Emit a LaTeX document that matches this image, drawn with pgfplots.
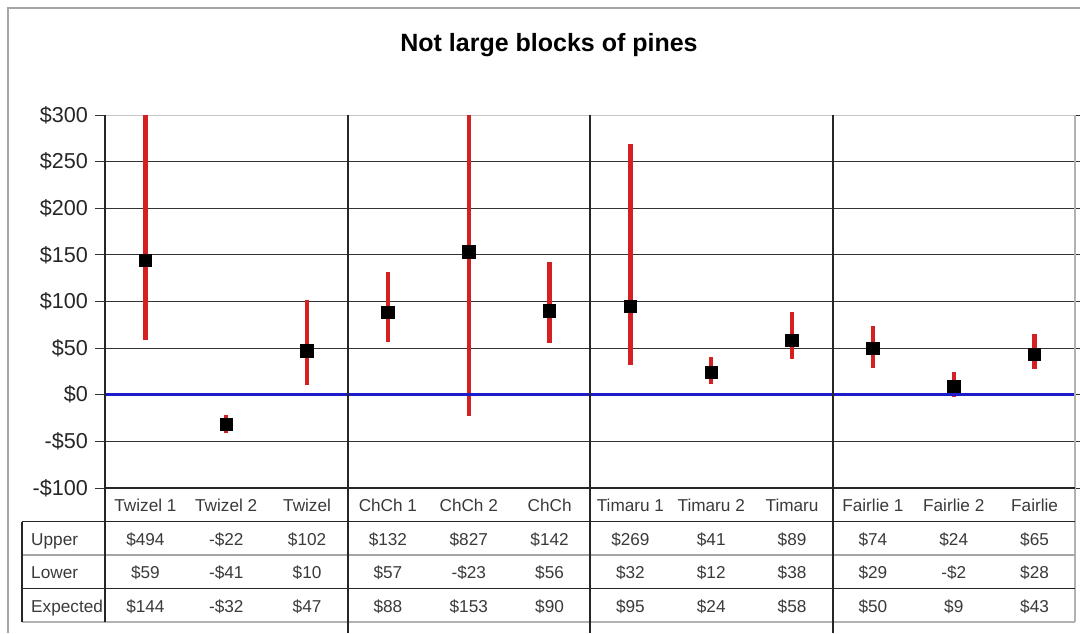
\documentclass[border=0pt]{standalone}
\usepackage{pgfplots}
\usepackage{pgfplotstable}
\pgfplotsset{compat=1.18}
\usepackage{fontspec}
\setmainfont{Liberation Sans}
\definecolor{barred}{HTML}{D42020}
\definecolor{zeroblue}{HTML}{1C1CC8}
\definecolor{tabtext}{HTML}{3A3A3A}
\pgfplotstableread[col sep=comma]{
x,name,up,lo,exp
0,Twizel 1,494,59,144
1,Twizel 2,-22,-41,-32
2,Twizel,102,10,47
3,ChCh 1,132,57,88
4,ChCh 2,827,-23,153
5,ChCh,142,56,90
6,Timaru 1,269,32,95
7,Timaru 2,41,12,24
8,Timaru,89,38,58
9,Fairlie 1,74,29,50
10,Fairlie 2,24,-2,9
11,Fairlie,65,28,43
}\data
\def\fmtA#1#2\relax{\ifx-#1-\$#2\else\$#1#2\fi}
\def\fmt{\expandafter\fmtA\pgfplotspointmeta\relax}
\tikzset{tabcell/.style={font=\fontsize{8.6}{10}\selectfont, text=tabtext, text height=1.6ex, text depth=0.3ex}}
\begin{document}
\begin{tikzpicture}
\useasboundingbox (0,0) rectangle (540pt,316.5pt);
% outer chart frame
\draw[gray!70, line width=0.8pt] (4pt,0) -- (4pt,312.5pt) -- (540pt,312.5pt);
\node[font=\bfseries\fontsize{12.5}{14}\selectfont] at (274.5pt,294pt) {Not large blocks of pines};
% main plot
\begin{axis}[
  at={(52.5pt,72.5pt)}, anchor=south west,
  scale only axis, width=485pt, height=186.5pt,
  xmin=-0.5, xmax=11.5, ymin=-100, ymax=300,
  xtick=\empty,
  ytick={-100,-50,0,50,100,150,200,250,300},
  yticklabels={-\$100,-\$50,\$0,\$50,\$100,\$150,\$200,\$250,\$300},
  yticklabel style={font=\fontsize{10.8}{12}\selectfont, text=black!85},
  tick align=outside, major tick length=5pt,
  tick style={black!80, line width=0.5pt},
  ymajorgrids, major grid style={black!80, line width=0.5pt},
  axis line style={gray!45, line width=0.5pt},
  clip=true,
]
\addplot[draw=none, mark=none, forget plot,
  error bars/.cd, y dir=both, y explicit,
  error mark=none,
  error bar style={barred, line width=2.1pt}]
  table[x=x, y=exp, y error plus expr=\thisrow{up}-\thisrow{exp},
        y error minus expr=\thisrow{exp}-\thisrow{lo}] {\data};
\addplot[zeroblue, line width=1.3pt, forget plot] coordinates {(-0.5,0) (11.5,0)};
\addplot[only marks, mark=square*, mark size=3.1pt, black] table[x=x, y=exp] {\data};
\end{axis}
% data table below the plot
\begin{axis}[
  at={(52.5pt,5.5pt)}, anchor=south west,
  scale only axis, width=485pt, height=67pt,
  xmin=-0.5, xmax=11.5, ymin=0, ymax=4,
  hide axis, clip=false,
  nodes near coords align={center},
  every node near coord/.append style={anchor=center, tabcell},
]
% table rules
\draw[gray!60, line width=0.6pt] (axis cs:11.5,0) -- (axis cs:11.5,15.13);
\draw[gray!60, line width=0.6pt] (axis cs:-1.527,0) -- (axis cs:11.5,0);
\draw[gray!70, line width=0.6pt] (axis cs:-1.527,2) -- (axis cs:11.5,2);
\draw[black!85, line width=0.7pt] (axis cs:-1.527,1) -- (axis cs:11.5,1);
\draw[black!85, line width=0.7pt] (axis cs:-1.527,3) -- (axis cs:11.5,3);
\draw[black!85, line width=0.7pt] (axis cs:-1.527,0) -- (axis cs:-1.527,3);
\draw[black!85, line width=0.8pt] (axis cs:-0.5,0) -- (axis cs:-0.5,15.13);
\draw[black!85, line width=0.8pt] (axis cs:-0.5,4) -- (axis cs:11.5,4);
\draw[black!85, line width=1pt] (axis cs:2.5,-0.33) -- (axis cs:2.5,15.13);
\draw[black!85, line width=1pt] (axis cs:5.5,-0.33) -- (axis cs:5.5,15.13);
\draw[black!85, line width=1pt] (axis cs:8.5,-0.33) -- (axis cs:8.5,15.13);
% row headers
\node[anchor=west, tabcell] at (axis cs:-1.50,2.5) {Upper};
\node[anchor=west, tabcell] at (axis cs:-1.50,1.5) {Lower};
\node[anchor=west, tabcell] at (axis cs:-1.50,0.5) {Expected};
% category names
\addplot[only marks, mark=none, nodes near coords, point meta=explicit symbolic]
  table[x=x, y expr=3.5, meta=name] {\data};
% values
\addplot[only marks, mark=none, nodes near coords={\fmt}, point meta=explicit symbolic]
  table[x=x, y expr=2.5, meta=up] {\data};
\addplot[only marks, mark=none, nodes near coords={\fmt}, point meta=explicit symbolic]
  table[x=x, y expr=1.5, meta=lo] {\data};
\addplot[only marks, mark=none, nodes near coords={\fmt}, point meta=explicit symbolic]
  table[x=x, y expr=0.5, meta=exp] {\data};
\end{axis}
\end{tikzpicture}
\end{document}
